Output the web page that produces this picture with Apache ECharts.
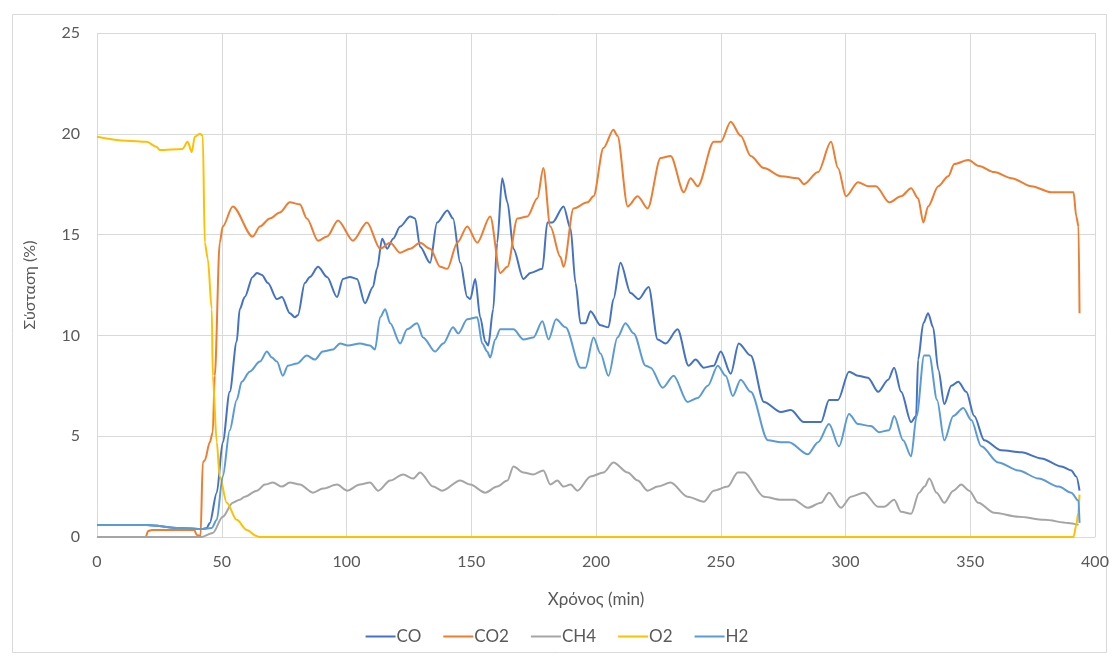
<!DOCTYPE html>
<html>
<head>
<meta charset="utf-8">
<script src="https://cdn.jsdelivr.net/npm/echarts@6/dist/echarts.min.js"></script>
<style>
html,body{margin:0;padding:0;background:#fff;}
#c{width:1114px;height:660px;}
</style>
</head>
<body>
<div id="c"></div>
<script>
// Time (min), value (%) pairs
const CO = [[0,0.6],[19.9,0.6],[33.1,0.45],[42.4,0.4],[44,0.45],[45.2,0.7],[48,2.2],[50.4,4.7],[53.2,7.2],[56,9.7],[57.2,11.3],[59.2,11.9],[62.4,12.9],[64.1,13.1],[66.1,13.0],[68.5,12.6],[72.1,11.8],[74.1,11.9],[77.3,11.1],[79.3,10.9],[80.5,11.0],[83.3,12.6],[85.3,12.9],[88.6,13.4],[92.2,12.9],[96.2,11.9],[98.6,12.8],[101.4,12.9],[104.2,12.8],[107.4,11.6],[110.6,12.4],[112.2,13.3],[114.3,14.8],[116.3,14.3],[118.7,14.8],[121.5,15.4],[125.5,15.9],[127.5,15.8],[129.5,14.4],[133.5,13.6],[136.3,15.6],[140.4,16.2],[142.7,15.8],[145.6,13.6],[148.4,11.9],[149.6,11.8],[151.6,12.8],[153.6,10.9],[155.6,9.7],[156.8,9.5],[158.8,11.3],[160.4,14.6],[162.4,17.8],[164.5,16.6],[166.9,14.3],[170.9,12.8],[173.7,13.1],[178.5,13.3],[180.5,15.6],[182.5,15.6],[187,16.4],[189.8,15.3],[191.8,12.6],[193.8,10.6],[195.8,10.6],[197.8,11.2],[201.8,10.5],[205,10.4],[207,11.8],[209.8,13.6],[213.9,12.1],[217.1,11.8],[221.1,12.4],[224.7,9.8],[227.9,9.6],[232.7,10.3],[237.1,8.5],[239.9,8.8],[243.2,8.4],[247.2,8.5],[250,9.2],[254,8.1],[257.2,9.6],[262,9.0],[267.3,6.7],[274.1,6.2],[278.1,6.3],[283.3,5.7],[290.2,5.7],[293.4,6.8],[297,6.8],[301.4,8.2],[305,8.0],[309,7.9],[313.1,7.2],[317.1,7.8],[319.5,8.4],[322.3,7.2],[326.3,5.7],[328.3,6.0],[329.1,8.8],[331.2,10.6],[333.1,11.1],[335.1,10.4],[337.2,8.3],[339.6,6.6],[342.4,7.5],[345.2,7.7],[348.4,7.2],[351.6,6.0],[355.6,4.8],[362.4,4.3],[370.5,4.2],[378.5,3.9],[386.5,3.5],[390.5,3.3],[392.5,3.0],[393.8,2.3]];

const CO2 = [[0,0],[19.5,0],[20.5,0.3],[22,0.35],[39,0.35],[40,0.1],[41.5,0.05],[42.4,3.7],[43.2,3.8],[45.2,4.7],[46.4,5.2],[47.2,8.0],[49.2,14.6],[50.4,15.4],[54.4,16.4],[62.4,14.9],[65.3,15.4],[69.3,15.8],[73.3,16.1],[77.3,16.6],[81.3,16.5],[84.1,15.8],[88.6,14.7],[92.2,14.9],[96.6,15.7],[102.6,14.7],[108.2,15.6],[113.5,14.3],[117.5,14.6],[121.5,14.1],[125.5,14.3],[129.5,14.6],[133.5,14.3],[137.6,13.4],[140.4,13.3],[144.4,14.6],[148.4,15.4],[152.4,14.6],[157.6,15.9],[161.6,13.1],[164.5,13.4],[168.5,15.8],[172.5,15.9],[176.5,16.8],[178.9,18.3],[181.7,15.4],[185.7,13.9],[187,13.4],[191,16.3],[196.6,16.6],[199,16.9],[203,19.3],[207,20.2],[208.6,19.9],[212.7,16.4],[216.7,16.9],[220.7,16.3],[225.9,18.8],[229.9,18.9],[235.2,17.1],[237.9,17.8],[240.8,17.4],[247.2,19.6],[250,19.6],[254,20.6],[258,19.9],[262,18.9],[267.3,18.3],[274.1,17.9],[281,17.8],[283.3,17.5],[289,18.1],[294.2,19.6],[297,18.3],[300.2,16.9],[305,17.6],[309,17.4],[312.2,17.4],[317.5,16.6],[322.3,16.9],[326.3,17.3],[329.1,16.8],[331.2,15.6],[333.1,16.4],[337.2,17.4],[341.2,17.9],[343.6,18.5],[349.2,18.7],[353.5,18.4],[359.6,18.1],[366.5,17.8],[374.5,17.4],[382.5,17.1],[391.4,17.1],[392.5,15.9],[393.4,15.4],[393.8,11.1]];

const CH4 = [[0,0],[42,0],[46.4,0.2],[50.4,1.0],[54.4,1.7],[57.2,1.85],[59.2,2.0],[64.1,2.3],[67.3,2.6],[70.5,2.7],[74.1,2.5],[77.3,2.7],[81.3,2.6],[86.5,2.2],[90.6,2.4],[96.2,2.6],[100.2,2.3],[105.4,2.6],[109.4,2.7],[112.7,2.3],[117.5,2.8],[122.7,3.1],[126.7,2.9],[129.5,3.2],[134.7,2.5],[138.4,2.3],[145.6,2.8],[149.6,2.6],[155.6,2.2],[160.4,2.5],[164.5,2.8],[166.9,3.5],[170.9,3.2],[174.9,3.1],[178.9,3.3],[181.7,2.6],[184.5,2.8],[187,2.5],[189.8,2.6],[192.6,2.3],[197.8,3.0],[203,3.2],[207,3.7],[212.7,3.2],[216.7,2.8],[220.7,2.3],[224.7,2.5],[229.9,2.7],[236.7,2.0],[243.2,1.75],[247.2,2.3],[252.8,2.5],[256.8,3.2],[259.4,3.2],[267.3,2.0],[274.1,1.85],[279.3,1.85],[284.9,1.45],[290.2,1.7],[293.4,2.2],[298.2,1.45],[302.2,2.0],[307.4,2.2],[313.1,1.5],[315.5,1.5],[319.5,1.85],[322.3,1.25],[326.3,1.15],[329.5,2.2],[331.7,2.5],[333.6,2.9],[336.5,2.2],[339.6,1.7],[343.2,2.3],[346.4,2.6],[349.6,2.3],[353.2,1.7],[359.6,1.2],[369.3,1.0],[379.7,0.85],[389.3,0.7],[393.4,0.6]];

const O2 = [[0,19.85],[11.8,19.65],[19.9,19.6],[23.9,19.35],[25.1,19.2],[34.3,19.25],[36.3,19.6],[38,19.1],[39.2,19.85],[41.2,20.0],[42.4,19.9],[43.2,14.6],[44.4,13.8],[46,11.3],[46.4,8.0],[48,4.7],[49.2,3.0],[52,1.7],[56,0.85],[60,0.35],[64,0.05],[65,0],[391.4,0],[392.5,0.6],[393.3,1.2],[393.8,2.1]];

const H2 = [[0,0.6],[19.9,0.6],[33.1,0.45],[42.4,0.4],[46,0.45],[48,0.85],[50.4,3.0],[53.2,5.3],[56,6.8],[58,7.7],[61.2,8.2],[65.3,8.7],[68.1,9.2],[70.1,8.9],[72.1,8.7],[74.5,8.0],[76.5,8.5],[80.1,8.6],[84.1,9.0],[87.3,8.8],[90.5,9.2],[94.6,9.3],[97.4,9.6],[100.6,9.5],[105.4,9.6],[109.4,9.5],[111.4,9.3],[113.5,10.9],[115.5,11.3],[117.5,10.6],[121.5,9.6],[124.3,10.3],[128.3,10.6],[130.7,9.9],[135.5,9.2],[138.8,9.6],[142.7,10.4],[144.8,10.1],[148.4,10.8],[152.4,10.9],[154.4,9.6],[156.4,9.2],[157.6,8.9],[159.6,9.8],[161.6,10.3],[166.9,10.3],[170.9,9.8],[174.9,9.9],[178.5,10.7],[181,9.8],[184,10.8],[187.8,10.4],[193.8,8.4],[195.8,8.4],[199,9.9],[201.8,9.1],[205,8.0],[208.6,9.9],[211.8,10.6],[215.1,10.1],[219.9,8.5],[221.9,8.4],[226.7,7.4],[231.1,8.0],[236.7,6.7],[240.8,6.9],[244.8,7.5],[248.8,8.5],[252,8.0],[254.8,7.0],[258,7.8],[262,7.2],[268.9,4.8],[274.1,4.7],[277.3,4.7],[284.9,4.1],[289,4.7],[293.4,5.6],[297.4,4.5],[301.4,6.1],[305,5.6],[310.2,5.5],[313.5,5.2],[317.5,5.3],[319.5,6.0],[323.1,4.8],[326.3,4.0],[328.5,6.0],[331.5,9.0],[333.6,9.0],[336.7,6.8],[339.6,4.8],[343.2,6.0],[347.2,6.4],[350.4,5.8],[354.4,4.5],[361.2,3.7],[369.3,3.3],[377.4,2.9],[385.4,2.5],[390.5,2.2],[393.4,1.8],[393.8,0.7]];

const seriesNames = ['CO','CO2','CH4','O2','H2'];
const seriesData = [CO, CO2, CH4, O2, H2];
const colors = ['#4472C4','#ED7D31','#A5A5A5','#FFC000','#5B9BD5'];
const xTitle = 'Χρόνος (min)';
const yTitle = 'Σύσταση (%)';

const FONT = 'Lato';
const chart = echarts.init(document.getElementById('c'), null, {renderer:'canvas'});
chart.setOption({
  backgroundColor: '#fff',
  animation: false,
  color: colors,
  graphic: [{
    type: 'rect', left: 10, top: 12, silent: true,
    shape: {x: 0, y: 0, width: 1094, height: 638},
    style: {fill: 'none', stroke: '#D9D9D9', lineWidth: 1}
  }],
  grid: {left: 97, right: 19, top: 33, bottom: 123, containLabel: false},
  xAxis: {
    type: 'value', min: 0, max: 400, interval: 50,
    name: xTitle, nameLocation: 'middle', nameGap: 54,
    nameTextStyle: {color: '#595959', fontSize: 17, fontFamily: FONT},
    axisLine: {show: true, lineStyle: {color: '#D9D9D9', width: 1}},
    axisTick: {show: false},
    axisLabel: {color: '#595959', fontSize: 16, fontFamily: FONT, margin: 17},
    splitLine: {show: true, lineStyle: {color: '#D9D9D9', width: 1}}
  },
  yAxis: {
    type: 'value', min: 0, max: 25, interval: 5,
    name: yTitle, nameLocation: 'middle', nameGap: 59, nameRotate: 90,
    nameTextStyle: {color: '#595959', fontSize: 16, fontFamily: FONT},
    axisLine: {show: false},
    axisTick: {show: false},
    axisLabel: {color: '#595959', fontSize: 16, fontFamily: FONT, margin: 17},
    splitLine: {show: true, lineStyle: {color: '#D9D9D9', width: 1}}
  },
  legend: {
    bottom: 10, left: 'center',
    icon: 'rect', itemWidth: 30, itemHeight: 2, itemGap: 22,
    textStyle: {color: '#595959', fontSize: 17, fontFamily: FONT, padding: [0,0,0,-4]},
    data: seriesNames
  },
  series: seriesNames.map((n, i) => ({
    name: n, type: 'line', data: seriesData[i],
    showSymbol: false, symbol: 'none',
    smooth: 0.3, smoothMonotone: 'x',
    lineStyle: {width: 2, color: colors[i]},
    itemStyle: {color: colors[i]}
  }))
});
</script>
</body>
</html>
